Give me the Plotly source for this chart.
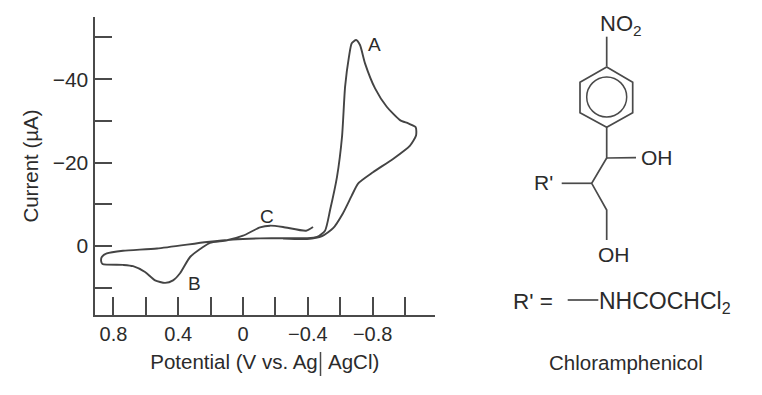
import plotly.graph_objects as go

FONT = "Liberation Sans, Arial, sans-serif"
INK = "#2b2b2b"
LINE = "#4a4a4a"
PAGE_W, PAGE_H = 762, 395
PAD = 8  # the page's own margin round the figure
W, H = PAGE_W - 2 * PAD, PAGE_H - 2 * PAD

# Cyclic voltammogram
potential = [-0.432, -0.389, -0.247, -0.167, -0.105, 0.0, 0.099, 0.204, 0.247, 0.327, 0.389, 0.432,
             0.481, 0.543, 0.605, 0.679, 0.741, 0.868, 0.876, 0.872, 0.841, 0.741, 0.531, 0.222, 0.062,
             -0.105, -0.247, -0.395, -0.457, -0.506, -0.537, -0.580, -0.611, -0.630, -0.654, -0.671,
             -0.698, -0.722, -0.753, -0.815, -0.887, -0.969, -1.020, -1.066, -1.068, -1.031, -0.926, -0.802,
             -0.710, -0.671, -0.617, -0.556, -0.488, -0.395, -0.247]
current = [-4.6, -3.7, -4.6, -4.9, -4.5, -2.5, -1.4, -0.8, 0.2, 2.6, 6.5, 8.2,
           8.8, 8.2, 6.2, 4.8, 4.5, 4.3, 3.6, 2.6, 1.75, 1.1, 0.55, -1.0, -1.6,
           -1.85, -1.9, -1.9, -2.2, -3.7, -8.6, -16.6, -26.2, -38.2, -45.4, -48.6,
           -49.4, -48.2, -43.8, -37.8, -33.4, -30.2, -29.4, -28.5, -26.5, -24.1, -20.9, -17.7,
           -15.0, -12.1, -7.9, -4.3, -2.4, -1.7, -1.8]

x_ticks = [0.8, 0.4, 0.0, -0.4, -0.8]
x_labels = ["0.8", "0.4", "0", "\u22120.4", "\u22120.8"]
x_minor_ticks = [0.6, 0.2, -0.2, -0.6, -1.0]
y_ticks = [0, -20, -40]
y_labels = ["0", "\u221220", "\u221240"]
y_minor_ticks = [10, -10, -30, -50]

peak_names = ["A", "B", "C"]
peak_pos = [-0.81, 0.30, -0.145]
peak_cur = [-48.2, 9.0, -7.0]

# Chloramphenicol skeleton, on a page-sized overlay scale
ring_x = [606.7, 632.7, 632.7, 606.7, 580, 580, 606.7]
ring_y = [67, 82.3, 112.7, 127.3, 112.7, 82.3, 67]
chain_x = [606.7, 606.7, None, 606.7, 606.7, 591.7, 606.7, 606.7, None, 606.7, 636, None, 561.7, 591.7, None, 567.7, 598.3]
chain_y = [36.7, 66.7, None, 127.3, 158, 183.3, 210, 240, None, 158, 157.6, None, 183.3, 183.3, None, 300, 300]

fig = go.Figure()
fig.add_trace(go.Scatter(x=potential, y=current, mode="lines", xaxis="x", yaxis="y",
                         line=dict(color="#444444", width=1.9, shape="spline", smoothing=0.6),
                         hoverinfo="skip", showlegend=False))
fig.add_trace(go.Scatter(x=ring_x, y=ring_y, mode="lines", xaxis="x2", yaxis="y2",
                         line=dict(color=LINE, width=1.7), hoverinfo="skip", showlegend=False))
fig.add_trace(go.Scatter(x=chain_x, y=chain_y, mode="lines", xaxis="x2", yaxis="y2",
                         line=dict(color=LINE, width=1.7), hoverinfo="skip", showlegend=False))

fig.update_layout(
    width=W, height=H, margin=dict(l=0, r=0, t=0, b=0), autosize=False,
    paper_bgcolor="white", plot_bgcolor="rgba(0,0,0,0)", showlegend=False,
    font=dict(family=FONT, size=20, color=INK),
    xaxis=dict(domain=[(94.5 - PAD) / W, (435 - PAD) / W], range=[0.917, -1.185],
               tickmode="array", tickvals=x_ticks, ticktext=x_labels,
               minor=dict(tickmode="array", tickvals=x_minor_ticks, ticks="inside", ticklen=18, tickwidth=1.6, tickcolor=LINE, showgrid=False),
               ticks="inside", ticklen=18, tickwidth=1.6, tickcolor=LINE, showgrid=False, zeroline=False,
               showline=True, linecolor=LINE, linewidth=2, anchor="y", tickfont=dict(size=20, color=INK),
               title=dict(text="Potential (V vs. Ag  AgCl)", standoff=11, font=dict(size=20.5, color=INK))),
    yaxis=dict(domain=[(PAGE_H - PAD - 315) / H, (PAGE_H - PAD - 17) / H], range=[16.5, -54.9],
               tickmode="array", tickvals=y_ticks, ticktext=y_labels,
               minor=dict(tickmode="array", tickvals=y_minor_ticks, ticks="inside", ticklen=17, tickwidth=1.6, tickcolor=LINE, showgrid=False),
               ticks="inside", ticklen=17, tickwidth=1.6, tickcolor=LINE, showgrid=False, zeroline=False,
               showline=True, linecolor=LINE, linewidth=2, anchor="x", tickfont=dict(size=21, color=INK),
               title=dict(text="Current (\u00b5A)", standoff=8, font=dict(size=20.5, color=INK))),
    xaxis2=dict(domain=[0, 1], range=[PAD, PAD + W], visible=False, anchor="y2"),
    yaxis2=dict(domain=[0, 1], range=[PAD + H, PAD], visible=False, anchor="x2"),
)

fig.add_shape(type="circle", xref="x2", yref="y2", x0=586.7, x1=626.7, y0=77, y1=117,
              line=dict(color=LINE, width=1.5))
fig.add_shape(type="line", xref="x2", yref="y2", x0=320.5, x1=320.5, y0=352, y1=376,
              line=dict(color=LINE, width=1.5))

for name, xv, yv in zip(peak_names, peak_pos, peak_cur):
    fig.add_annotation(x=xv, y=yv, xref="x", yref="y", text=name, showarrow=False, font=dict(size=19, color=INK))

labels = [
    ("NO<sub>2</sub>", 621, 25, 22), ("OH", 657, 157, 21), ("R'", 543.5, 182, 21), ("OH", 614, 254, 21),
    ("R' =", 532.5, 301, 22.5), ("NHCOCHCl<sub>2</sub>", 665, 302, 23), ("Chloramphenicol", 625.5, 362, 20.5),
]
for text, xp, yp, size in labels:
    fig.add_annotation(x=xp, y=yp, xref="x2", yref="y2", text=text, showarrow=False, font=dict(size=size, color=INK))

fig.write_html("out.html")
